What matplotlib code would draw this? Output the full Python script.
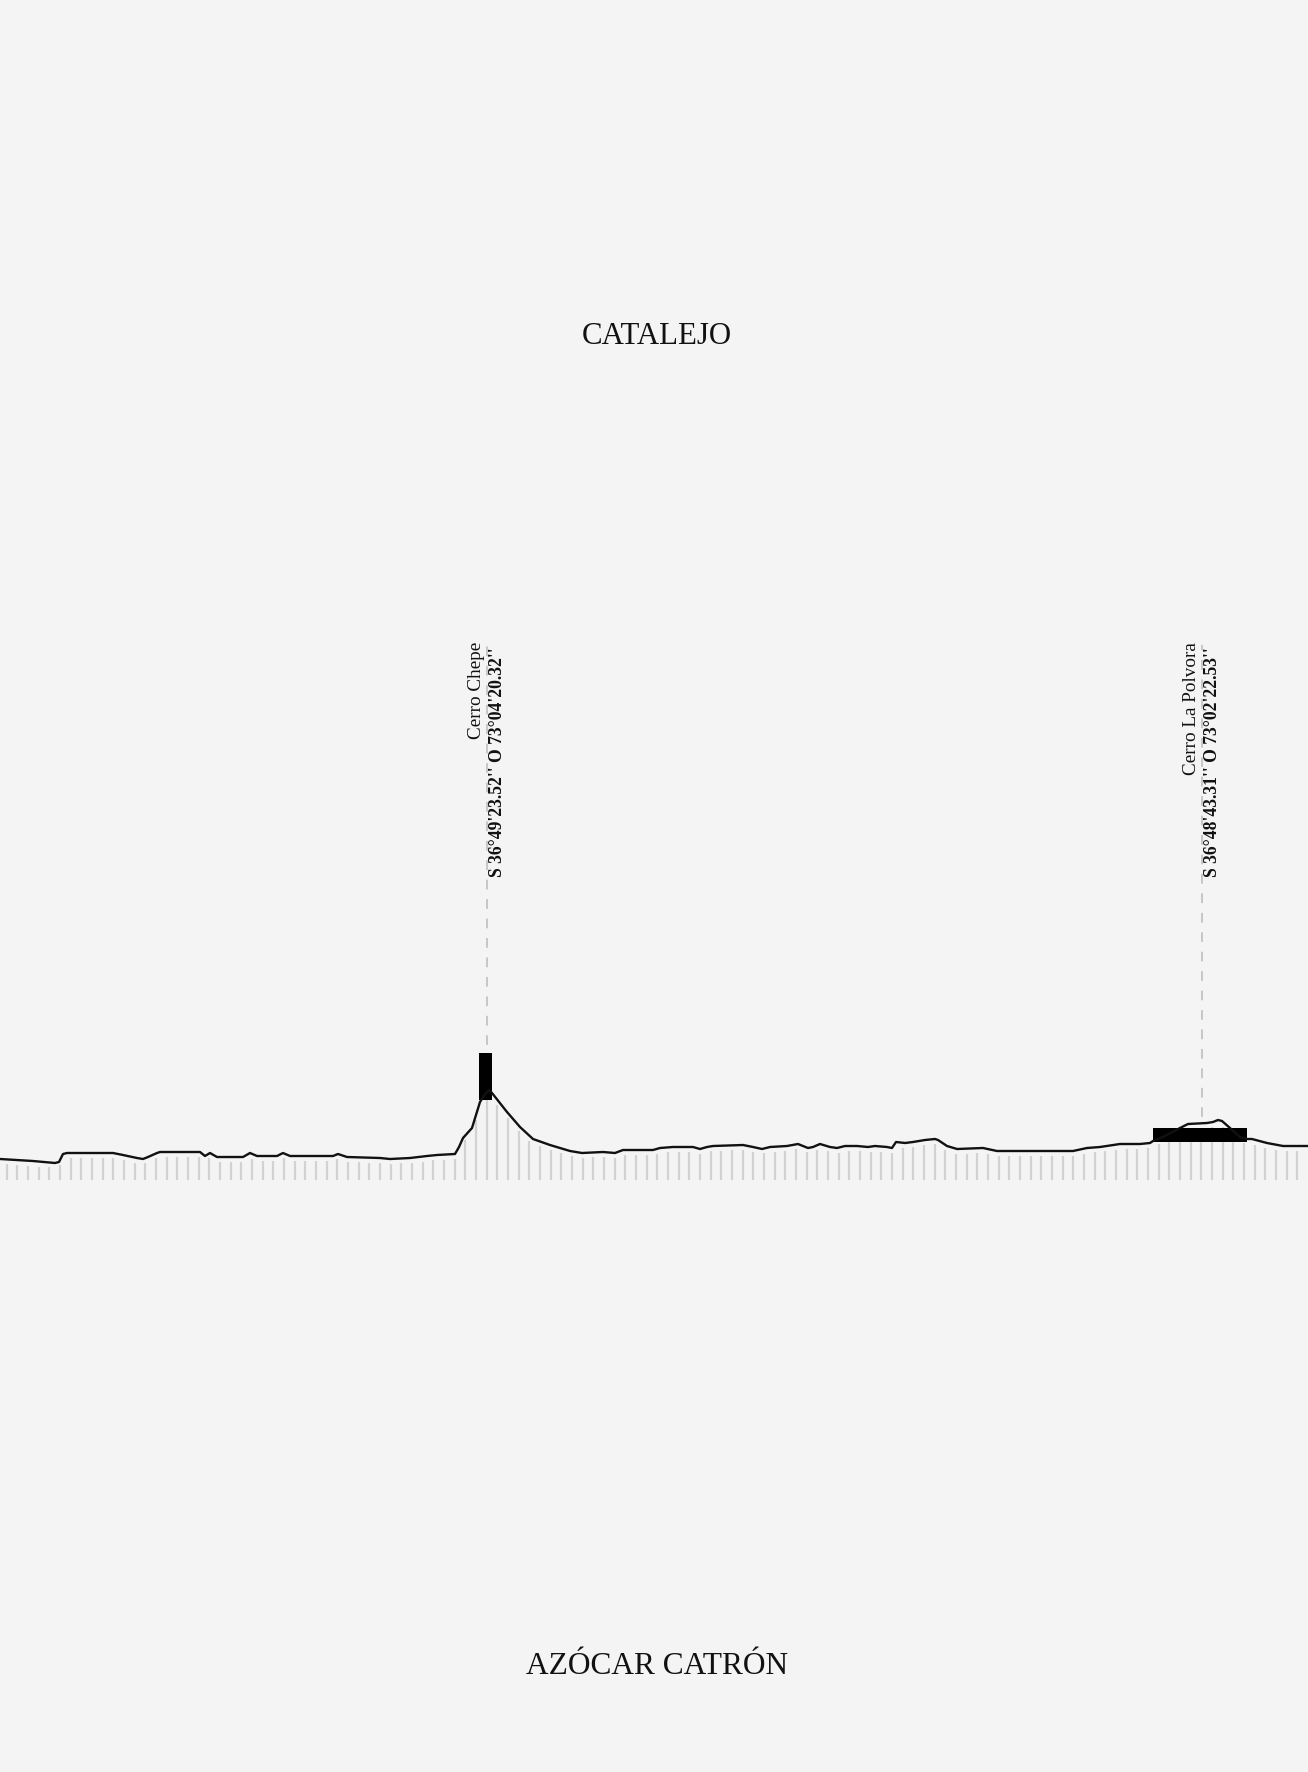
import numpy as np
import matplotlib.pyplot as plt

# --- profile data (distance along the section, elevation above the base line)
dist = [0, 33, 55, 59, 63, 67, 113, 123, 137, 143, 148, 157, 160, 200, 205, 210, 217, 243,
        250, 257, 277, 283, 290, 333, 338, 347, 380, 390, 410, 427, 437, 455, 459, 463,
        472, 480, 485, 489, 492, 507, 520, 533, 550, 570, 582, 603, 615, 623, 653, 660,
        673, 678, 693, 700, 707, 713, 743, 753, 762, 770, 787, 798, 808, 813, 820, 830,
        837, 845, 857, 868, 875, 887, 892, 896, 905, 913, 925, 935, 938, 947, 957, 983,
        997, 1073, 1087, 1100, 1120, 1140, 1150, 1153, 1165, 1180, 1188, 1207, 1213,
        1218, 1222, 1230, 1240, 1247, 1252, 1267, 1283, 1308]
elev = [21, 19, 17, 18, 26, 27, 27, 25, 22, 21, 23, 27, 28, 28, 24, 27, 23, 23,
        27, 24, 24, 27, 24, 24, 26, 23, 22, 21, 22, 24, 25, 26, 33, 42,
        52, 78, 86, 90, 87, 68, 53, 41, 35, 29, 27, 28, 27, 30, 30, 32,
        33, 33, 33, 31, 33, 34, 35, 33, 31, 33, 34, 36, 32, 33, 36, 33,
        32, 34, 34, 33, 34, 33, 32, 38, 37, 38, 40, 41, 40, 34, 31, 32,
        29, 29, 32, 33, 36, 36, 37, 39, 44, 52, 56, 57, 58,
        60, 59, 52, 43, 41, 41, 37, 34, 34]

# --- cerros marcados
cerro_names = ["Cerro Chepe", "Cerro La Polvora"]
cerro_coords = ["S 36°49'23.52'' O 73°04'20.32''", "S 36°48'43.31'' O 73°02'22.53''"]
cerro_x = [486.7, 1201.7]
block_left = [479, 1153]
block_right = [492, 1247]
block_bottom = [80, 38]
block_top = [127, 52]
leader_top = 535
leader_bottom = [135, 63]

tick_step = 10.667
tick_start = 6.7
n_ticks = 122

bg = '#f4f4f4'
fig = plt.figure(figsize=(13.08, 17.72), dpi=100, facecolor=bg)
ax = fig.add_axes([0, 0, 1, 1])
ax.set_facecolor(bg)
ax.set_xlim(0, 1308)
ax.set_ylim(-592, 1180)
ax.axis('off')

# vertical hatch under the profile
tx = tick_start + tick_step * np.arange(n_ticks)
ttop = np.interp(tx, dist, elev) - 5
ax.vlines(tx, 0, ttop, colors='#d2d2d2', lw=1.6, zorder=1)

# profile
ax.plot(dist, elev, c='#111111', lw=1.7, solid_joinstyle='round', zorder=3)

# blocks, leaders and labels
for i in range(len(cerro_names)):
    ax.bar((block_left[i] + block_right[i]) / 2, block_top[i] - block_bottom[i],
           width=block_right[i] - block_left[i], bottom=block_bottom[i],
           color='#000000', zorder=2)
    ax.plot([cerro_x[i], cerro_x[i]], [leader_bottom[i], leader_top], c='#c6c6c6',
            lw=1.4, ls=(0, (5, 5)), zorder=1)
    ax.text(cerro_x[i] - 10, 538, cerro_names[i], rotation=90, ha='center', va='top',
            fontsize=13.8, family='Liberation Serif', color='#111111')
    ax.text(cerro_x[i] + 11, 533, cerro_coords[i], rotation=90, ha='center', va='top',
            fontsize=12.7, family='Liberation Serif', weight='bold', color='#111111')

fig.text(0.5023, 1 - 344 / 1772, "CATALEJO", ha='center', va='baseline',
         fontsize=22.2, family='Liberation Serif', color='#111111')
fig.text(0.5023, 1 - 1674 / 1772, "AZÓCAR CATRÓN", ha='center', va='baseline',
         fontsize=22.6, family='Liberation Serif', color='#111111')

plt.savefig('out.png', dpi=100, facecolor=bg)
